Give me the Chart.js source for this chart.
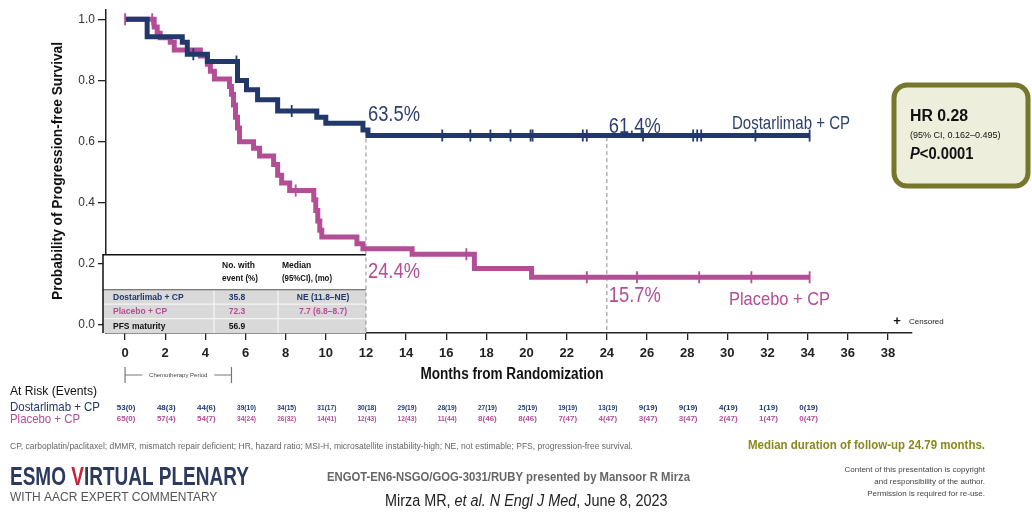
<!DOCTYPE html>
<html>
<head>
<meta charset="utf-8">
<script src="https://cdn.jsdelivr.net/npm/chart.js@4.4.0/dist/chart.umd.min.js"></script>
<style>
  html, body { margin: 0; padding: 0; background: #fff; }
  #wrap { width: 1032px; height: 513px; position: relative; }
</style>
</head>
<body>
<div id="wrap"><canvas id="km" width="1032" height="513"></canvas></div>
<script>
// ---- data ----
var xTicks = [0, 2, 4, 6, 8, 10, 12, 14, 16, 18, 20, 22, 24, 26, 28, 30, 32, 34, 36, 38];
var yTicks = [0, 0.2, 0.4, 0.6, 0.8, 1.0];

// Dostarlimab + CP (step drops)
var dostTimes = [0, 1.1, 2.85, 3.1, 4.1, 5.6, 6.05, 6.6, 7.6, 9.55, 10.0, 11.85, 12.1, 34.1];
var dostSurv  = [1.0, 0.943, 0.925, 0.886, 0.862, 0.80, 0.77, 0.737, 0.70, 0.68, 0.66, 0.638, 0.62, 0.62];
var dostCensor = [3.4, 5.55, 8.3, 15.8, 17.2, 18.2, 19.2, 20.2, 20.3, 22.8, 23.0, 25.8, 28.3, 28.5, 28.7, 31.4, 34.1];

// Placebo + CP
var placTimes = [0, 1.45, 1.6, 1.75, 2.25, 2.45, 3.75, 4.1, 4.25, 4.45, 5.2, 5.3, 5.4, 5.5, 5.6, 5.7, 6.4, 6.7,
                 7.4, 7.6, 7.8, 8.2, 9.4, 9.5, 9.6, 9.7, 9.8, 11.55, 11.85, 14.3, 17.4, 20.25, 34.1];
var placSurv  = [1.0, 0.975, 0.955, 0.94, 0.925, 0.90, 0.88, 0.853, 0.83, 0.805, 0.78, 0.755, 0.72, 0.68, 0.645, 0.60, 0.578, 0.553,
                 0.525, 0.49, 0.465, 0.44, 0.41, 0.375, 0.34, 0.31, 0.288, 0.266, 0.25, 0.232, 0.185, 0.156, 0.156];
var placCensor = [0, 1.35, 8.5, 17.0, 23.0, 25.5, 28.6, 31.2, 34.1];

var landmarks = [12, 24];
var dostLandmarkLabels = ['63.5%', '61.4%'];
var placLandmarkLabels = ['24.4%', '15.7%'];

var atRiskMonths = [0, 2, 4, 6, 8, 10, 12, 14, 16, 18, 20, 22, 24, 26, 28, 30, 32, 34];
var dostAtRisk = ['53(0)', '48(3)', '44(6)', '39(10)', '34(15)', '31(17)', '30(18)', '29(19)', '28(19)', '27(19)',
                  '25(19)', '19(19)', '13(19)', '9(19)', '9(19)', '4(19)', '1(19)', '0(19)'];
var placAtRisk = ['65(0)', '57(4)', '54(7)', '34(24)', '26(32)', '14(41)', '12(43)', '12(43)', '11(44)', '8(46)',
                  '8(46)', '7(47)', '4(47)', '3(47)', '3(47)', '2(47)', '1(47)', '0(47)'];

var chemoPeriod = [0, 5.3];

var tableRowLabels = ['Dostarlimab + CP', 'Placebo + CP', 'PFS maturity'];
var tableEventPct = ['35.8', '72.3', '56.9'];
var tableMedian = ['NE (11.8\u2013NE)', '7.7 (6.8\u20138.7)', ''];

var NAVY = '#22386b';
var PINK = '#b24d96';
var FF = '"Liberation Sans", Arial, sans-serif';

// step value lookup (KM curve value at time t)
function survAt(times, surv, t) {
  var v = surv[0];
  for (var i = 0; i < times.length; i++) { if (times[i] <= t) v = surv[i]; }
  return v;
}
function pts(times, surv) {
  return times.map(function (t, i) { return { x: t, y: surv[i] }; });
}
function censorPts(cens, times, surv) {
  return cens.map(function (t) { return { x: t, y: survAt(times, surv, t) }; });
}

function txt(ctx, s, x, y, font, color, align, maxW) {
  ctx.font = font;
  ctx.fillStyle = color;
  ctx.textAlign = align || 'left';
  ctx.textBaseline = 'middle';
  if (maxW) ctx.fillText(s, x, y, maxW); else ctx.fillText(s, x, y);
}
function rich(ctx, parts, x, y, sx) {
  ctx.save();
  ctx.translate(x, y);
  ctx.scale(sx, 1);
  ctx.textAlign = 'left';
  ctx.textBaseline = 'middle';
  var cx = 0;
  parts.forEach(function (p) {
    ctx.font = p.font;
    ctx.fillStyle = p.color;
    ctx.fillText(p.t, cx, 0);
    cx += ctx.measureText(p.t).width;
  });
  ctx.restore();
}

var YMIN = -0.026;

var datasets = [
  { label: 'dostCens', type: 'scatter', data: censorPts(dostCensor, dostTimes, dostSurv),
    pointStyle: 'line', rotation: 90, radius: 6, borderColor: NAVY, borderWidth: 1.8, showLine: false },
  { label: 'placCens', type: 'scatter', data: censorPts(placCensor, placTimes, placSurv),
    pointStyle: 'line', rotation: 90, radius: 6, borderColor: PINK, borderWidth: 1.8, showLine: false },
  { label: 'Dostarlimab + CP', data: pts(dostTimes, dostSurv), stepped: true, borderColor: NAVY,
    borderWidth: 5, pointRadius: 0, fill: false },
  { label: 'Placebo + CP', data: pts(placTimes, placSurv), stepped: true, borderColor: PINK,
    borderWidth: 5, pointRadius: 0, fill: false }
];
landmarks.forEach(function (m) {
  datasets.push({ label: 'lm' + m, data: [{ x: m, y: survAt(dostTimes, dostSurv, m) - 0.005 }, { x: m, y: YMIN }],
    borderColor: '#8c8c8c', borderWidth: 1, borderDash: [4, 3], pointRadius: 0, fill: false });
});

var tablePlugin = {
  id: 'pfsTable',
  beforeDatasetsDraw: function (chart) {
    var ctx = chart.ctx, xs = chart.scales.x, ys = chart.scales.y;
    var L = chart.chartArea.left - 3, R = xs.getPixelForValue(12), T = ys.getPixelForValue(0.23), B = chart.chartArea.bottom;
    var G = T + 35;
    ctx.save();
    ctx.fillStyle = '#fff';
    ctx.fillRect(L, T, R - L, B - T);
    ctx.fillStyle = '#d9d9d9';
    ctx.fillRect(L, G, R - L, B - G);
    ctx.strokeStyle = '#f5f5f5';
    ctx.lineWidth = 1.2;
    var rowH = (B - G) / 3;
    ctx.beginPath();
    ctx.moveTo(L, G + rowH); ctx.lineTo(R, G + rowH);
    ctx.moveTo(L, G + 2 * rowH); ctx.lineTo(R, G + 2 * rowH);
    ctx.moveTo(214, G); ctx.lineTo(214, B);
    ctx.moveTo(278, G); ctx.lineTo(278, B);
    ctx.stroke();
    ctx.strokeStyle = '#555';
    ctx.lineWidth = 1;
    ctx.beginPath(); ctx.moveTo(L, G); ctx.lineTo(R, G); ctx.stroke();
    ctx.strokeStyle = '#111';
    ctx.lineWidth = 1.5;
    ctx.beginPath();
    ctx.moveTo(R, T); ctx.lineTo(L, T); ctx.lineTo(L, B);
    ctx.stroke();
    var hf = 'bold 8.5px ' + FF;
    txt(ctx, 'No. with', 222, T + 11, hf, '#111', 'left', 36);
    txt(ctx, 'event (%)', 222, T + 24, hf, '#111', 'left', 36);
    txt(ctx, 'Median', 282, T + 11, hf, '#111', 'left', 40);
    txt(ctx, '(95%CI), (mo)', 282, T + 24, hf, '#111', 'left', 50);
    var rc = [NAVY, PINK, '#111'];
    for (var i = 0; i < 3; i++) {
      var cy = G + rowH * (i + 0.5) + 0.5;
      txt(ctx, tableRowLabels[i], 113, cy, hf, rc[i], 'left', 74);
      txt(ctx, tableEventPct[i], 237, cy, hf, rc[i], 'center');
      if (tableMedian[i]) txt(ctx, tableMedian[i], 323, cy, hf, rc[i], 'center', 62);
    }
    ctx.restore();
  },
  afterDraw: function (chart) {
    var ctx = chart.ctx, xs = chart.scales.x, ys = chart.scales.y;
    ctx.save();
    // y title
    ctx.save();
    ctx.translate(58, 171);
    ctx.rotate(-Math.PI / 2);
    txt(ctx, 'Probability of Progression-free Survival', 0, 0, 'bold 15px ' + FF, '#111', 'center', 258);
    ctx.restore();
    // x title
    txt(ctx, 'Months from Randomization', 512, 375, 'bold 16px ' + FF, '#111', 'center', 183);

    // landmark labels
    landmarks.forEach(function (m, i) {
      var px = xs.getPixelForValue(m) + 2;
      var dy = ys.getPixelForValue(survAt(dostTimes, dostSurv, m));
      var py = ys.getPixelForValue(survAt(placTimes, placSurv, m));
      txt(ctx, dostLandmarkLabels[i], px, dy - (i === 0 ? 15 : 9), '22px ' + FF, '#2e3f6e', 'left', 52);
      txt(ctx, placLandmarkLabels[i], px, py + (i === 0 ? 23 : 19), '22px ' + FF, PINK, 'left', 52);
    });
    txt(ctx, 'Dostarlimab + CP', 732, 124, '19px ' + FF, '#2e3f6e', 'left', 118);
    txt(ctx, 'Placebo + CP', 729, 300, '19px ' + FF, PINK, 'left', 101);

    // censored legend
    txt(ctx, '+', 897, 321, 'bold 13px ' + FF, '#111', 'center');
    txt(ctx, 'Censored', 909, 322, '8px ' + FF, '#222', 'left', 41);

    // chemotherapy period bracket
    var c0 = xs.getPixelForValue(chemoPeriod[0]), c1 = xs.getPixelForValue(chemoPeriod[1]);
    var cm = (c0 + c1) / 2;
    ctx.strokeStyle = '#777';
    ctx.lineWidth = 1.2;
    ctx.beginPath();
    ctx.moveTo(c0, 367); ctx.lineTo(c0, 383);
    ctx.moveTo(c1, 367); ctx.lineTo(c1, 383);
    ctx.moveTo(c0, 375); ctx.lineTo(cm - 36, 375);
    ctx.moveTo(cm + 36, 375); ctx.lineTo(c1, 375);
    ctx.stroke();
    txt(ctx, 'Chemotherapy Period', cm, 375, '6px ' + FF, '#444', 'center', 68);

    // at risk table
    txt(ctx, 'At Risk (Events)', 10, 391, '13px ' + FF, '#111', 'left', 87);
    txt(ctx, 'Dostarlimab + CP', 10, 407, '13px ' + FF, NAVY, 'left', 90);
    txt(ctx, 'Placebo + CP', 10, 419, '13px ' + FF, PINK, 'left', 70);
    atRiskMonths.forEach(function (m, i) {
      var px = xs.getPixelForValue(m) + 1;
      txt(ctx, dostAtRisk[i], px, 408, 'bold 8px ' + FF, NAVY, 'center', 19);
      txt(ctx, placAtRisk[i], px, 419, 'bold 8px ' + FF, PINK, 'center', 19);
    });

    // HR box
    ctx.beginPath();
    ctx.roundRect(894, 85, 134, 101, 13);
    ctx.fillStyle = '#eeeedc';
    ctx.fill();
    ctx.lineWidth = 5;
    ctx.strokeStyle = '#77772c';
    ctx.stroke();
    txt(ctx, 'HR 0.28', 910, 117, 'bold 16px ' + FF, '#111', 'left', 58);
    txt(ctx, '(95% CI, 0.162\u20130.495)', 910, 136, '9px ' + FF, '#111', 'left', 102);
    rich(ctx, [{ t: 'P', font: 'italic bold 16px ' + FF, color: '#111' },
               { t: '<0.0001', font: 'bold 16px ' + FF, color: '#111' }], 910, 155, 0.92);

    // footer
    txt(ctx, 'CP, carboplatin/paclitaxel; dMMR, mismatch repair deficient; HR, hazard ratio; MSI-H, microsatellite instability-high; NE, not estimable; PFS, progression-free survival.',
        10, 447, '8.5px ' + FF, '#666', 'left', 633);
    txt(ctx, 'Median duration of follow-up 24.79 months.', 748, 446, 'bold 12px ' + FF, '#8a8a1c', 'left', 237);
    rich(ctx, [{ t: 'ESMO ', font: 'bold 25px ' + FF, color: '#2b3a5e' },
               { t: 'V', font: 'bold 25px ' + FF, color: '#c3263a' },
               { t: 'IRTUAL PLENARY', font: 'bold 25px ' + FF, color: '#2b3a5e' }], 10, 478, 0.76);
    txt(ctx, 'WITH AACR EXPERT COMMENTARY', 10, 498, '12px ' + FF, '#555', 'left', 212);
    txt(ctx, 'ENGOT-EN6-NSGO/GOG-3031/RUBY presented by Mansoor R Mirza', 327, 478, 'bold 12px ' + FF, '#666', 'left', 363);
    rich(ctx, [{ t: 'Mirza MR, ', font: '16px ' + FF, color: '#222' },
               { t: 'et al. N Engl J Med', font: 'italic 16px ' + FF, color: '#222' },
               { t: ', June 8, 2023', font: '16px ' + FF, color: '#222' }], 385, 502, 0.9);
    txt(ctx, 'Content of this presentation is copyright', 985, 470, '8px ' + FF, '#444', 'right', 152);
    txt(ctx, 'and responsibility of the author.', 985, 482, '8px ' + FF, '#444', 'right', 120);
    txt(ctx, 'Permission is required for re-use.', 985, 494, '8px ' + FF, '#444', 'right', 122);
    ctx.restore();
  }
};

new Chart(document.getElementById('km'), {
  type: 'line',
  data: { datasets: datasets },
  plugins: [tablePlugin],
  options: {
    responsive: false,
    animation: false,
    devicePixelRatio: 1,
    layout: { padding: { left: 0, top: 8, right: 120, bottom: 150 } },
    plugins: { legend: { display: false }, tooltip: { enabled: false } },
    scales: {
      x: {
        type: 'linear', min: -0.95, max: 39.2,
        afterBuildTicks: function (s) { s.ticks = xTicks.map(function (v) { return { value: v }; }); },
        afterFit: function (s) { s.height = 30; },
        grid: { drawOnChartArea: false, drawTicks: true, tickLength: 7, color: '#222', lineWidth: 1.3 },
        border: { color: '#222', width: 1.5 },
        ticks: { font: { size: 13, family: FF, weight: 'bold' }, color: '#222', padding: 6, autoSkip: false, maxRotation: 0 }
      },
      y: {
        type: 'linear', min: YMIN, max: 1.03,
        afterBuildTicks: function (s) { s.ticks = yTicks.map(function (v) { return { value: v }; }); },
        afterFit: function (s) { s.width = 106; },
        grid: { drawOnChartArea: false, drawTicks: true, tickLength: 8, color: '#222', lineWidth: 1.3 },
        border: { color: '#222', width: 1.5 },
        ticks: { font: { size: 12, family: FF }, color: '#333', padding: 3,
                 callback: function (v) { return v.toFixed(1); } }
      }
    }
  }
});
</script>
</body>
</html>
